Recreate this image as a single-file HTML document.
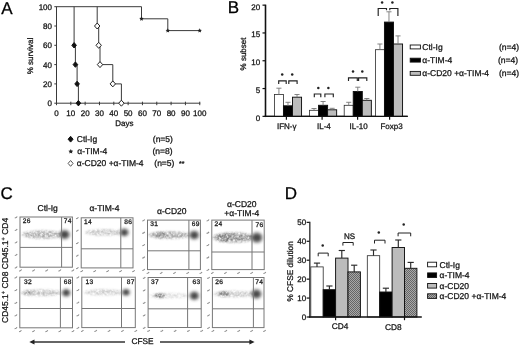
<!DOCTYPE html>
<html><head><meta charset="utf-8"><title>Figure</title>
<style>
html,body{margin:0;padding:0;background:#fff;}
body{width:520px;height:346px;overflow:hidden;font-family:"Liberation Sans",sans-serif;}
svg{display:block;text-rendering:geometricPrecision;font-family:"Liberation Sans",sans-serif;}
</style></head><body>
<svg width="520" height="346" viewBox="0 0 520 346">
<rect width="520" height="346" fill="#fff"/>
<g style="opacity:0.999">
<text x="1.2" y="13.5" font-size="17" text-anchor="start" fill="#000" stroke="#000" stroke-width="0.28" >A</text>
<text x="227.8" y="13.4" font-size="17" text-anchor="start" fill="#000" stroke="#000" stroke-width="0.28" >B</text>
<text x="0.6" y="199.3" font-size="17" text-anchor="start" fill="#000" stroke="#000" stroke-width="0.28" >C</text>
<text x="284.8" y="199.3" font-size="17" text-anchor="start" fill="#000" stroke="#000" stroke-width="0.28" >D</text>
<line x1="56.5" y1="6.400000000000003" x2="56.5" y2="103.7" stroke="#3a3a3a" stroke-width="1" />
<line x1="56.0" y1="103.2" x2="200.25" y2="103.2" stroke="#3a3a3a" stroke-width="1" />
<line x1="54.3" y1="103.2" x2="56.5" y2="103.2" stroke="#3a3a3a" stroke-width="1" />
<text x="52.0" y="106.10000000000001" font-size="8" text-anchor="end" fill="#151515" stroke="#151515" stroke-width="0.28" >0</text>
<line x1="54.3" y1="83.9" x2="56.5" y2="83.9" stroke="#3a3a3a" stroke-width="1" />
<text x="52.0" y="86.80000000000001" font-size="8" text-anchor="end" fill="#151515" stroke="#151515" stroke-width="0.28" >20</text>
<line x1="54.3" y1="64.6" x2="56.5" y2="64.6" stroke="#3a3a3a" stroke-width="1" />
<text x="52.0" y="67.5" font-size="8" text-anchor="end" fill="#151515" stroke="#151515" stroke-width="0.28" >40</text>
<line x1="54.3" y1="45.300000000000004" x2="56.5" y2="45.300000000000004" stroke="#3a3a3a" stroke-width="1" />
<text x="52.0" y="48.2" font-size="8" text-anchor="end" fill="#151515" stroke="#151515" stroke-width="0.28" >60</text>
<line x1="54.3" y1="26.0" x2="56.5" y2="26.0" stroke="#3a3a3a" stroke-width="1" />
<text x="52.0" y="28.9" font-size="8" text-anchor="end" fill="#151515" stroke="#151515" stroke-width="0.28" >80</text>
<line x1="54.3" y1="6.700000000000003" x2="56.5" y2="6.700000000000003" stroke="#3a3a3a" stroke-width="1" />
<text x="52.0" y="9.600000000000003" font-size="8" text-anchor="end" fill="#151515" stroke="#151515" stroke-width="0.28" >100</text>
<line x1="56.5" y1="101.7" x2="56.5" y2="105.2" stroke="#3a3a3a" stroke-width="1" />
<text x="56.5" y="115.6" font-size="8" text-anchor="middle" fill="#151515" stroke="#151515" stroke-width="0.28" >0</text>
<line x1="70.825" y1="101.7" x2="70.825" y2="105.2" stroke="#3a3a3a" stroke-width="1" />
<text x="70.825" y="115.6" font-size="8" text-anchor="middle" fill="#151515" stroke="#151515" stroke-width="0.28" >10</text>
<line x1="85.15" y1="101.7" x2="85.15" y2="105.2" stroke="#3a3a3a" stroke-width="1" />
<text x="85.15" y="115.6" font-size="8" text-anchor="middle" fill="#151515" stroke="#151515" stroke-width="0.28" >20</text>
<line x1="99.475" y1="101.7" x2="99.475" y2="105.2" stroke="#3a3a3a" stroke-width="1" />
<text x="99.475" y="115.6" font-size="8" text-anchor="middle" fill="#151515" stroke="#151515" stroke-width="0.28" >30</text>
<line x1="113.80000000000001" y1="101.7" x2="113.80000000000001" y2="105.2" stroke="#3a3a3a" stroke-width="1" />
<text x="113.80000000000001" y="115.6" font-size="8" text-anchor="middle" fill="#151515" stroke="#151515" stroke-width="0.28" >40</text>
<line x1="128.125" y1="101.7" x2="128.125" y2="105.2" stroke="#3a3a3a" stroke-width="1" />
<text x="128.125" y="115.6" font-size="8" text-anchor="middle" fill="#151515" stroke="#151515" stroke-width="0.28" >50</text>
<line x1="142.45" y1="101.7" x2="142.45" y2="105.2" stroke="#3a3a3a" stroke-width="1" />
<text x="142.45" y="115.6" font-size="8" text-anchor="middle" fill="#151515" stroke="#151515" stroke-width="0.28" >60</text>
<line x1="156.775" y1="101.7" x2="156.775" y2="105.2" stroke="#3a3a3a" stroke-width="1" />
<text x="156.775" y="115.6" font-size="8" text-anchor="middle" fill="#151515" stroke="#151515" stroke-width="0.28" >70</text>
<line x1="171.10000000000002" y1="101.7" x2="171.10000000000002" y2="105.2" stroke="#3a3a3a" stroke-width="1" />
<text x="171.10000000000002" y="115.6" font-size="8" text-anchor="middle" fill="#151515" stroke="#151515" stroke-width="0.28" >80</text>
<line x1="185.425" y1="101.7" x2="185.425" y2="105.2" stroke="#3a3a3a" stroke-width="1" />
<text x="185.425" y="115.6" font-size="8" text-anchor="middle" fill="#151515" stroke="#151515" stroke-width="0.28" >90</text>
<line x1="199.75" y1="101.7" x2="199.75" y2="105.2" stroke="#3a3a3a" stroke-width="1" />
<text x="199.75" y="115.6" font-size="8" text-anchor="middle" fill="#151515" stroke="#151515" stroke-width="0.28" >100</text>
<text x="124.4" y="126.2" font-size="8" text-anchor="middle" fill="#151515" stroke="#151515" stroke-width="0.28" >Days</text>
<text transform="translate(33,56) rotate(-90)" font-size="8" text-anchor="middle" fill="#151515" stroke="#151515" stroke-width="0.28">% survival</text>
<polyline points="56.50,6.70 141.50,6.70 141.50,18.80 167.80,18.80 167.80,30.60 199.70,30.60" fill="none" stroke="#3a3a3a" stroke-width="1"/>
<polyline points="74.10,6.70 74.10,45.30 75.40,45.30 75.40,64.60 77.10,64.60 77.10,83.90 78.40,83.90 78.40,103.20" fill="none" stroke="#3a3a3a" stroke-width="1"/>
<polyline points="97.20,6.70 97.20,26.00 98.70,26.00 98.70,45.30 100.00,45.30 100.00,64.60 112.80,64.60 112.80,83.90 121.40,83.90 121.40,103.20" fill="none" stroke="#3a3a3a" stroke-width="1"/>
<polygon points="141.50,16.50 142.18,17.87 143.69,18.09 142.59,19.16 142.85,20.66 141.50,19.95 140.15,20.66 140.41,19.16 139.31,18.09 140.82,17.87" fill="#222"/>
<polygon points="167.80,28.30 168.48,29.67 169.99,29.89 168.89,30.96 169.15,32.46 167.80,31.75 166.45,32.46 166.71,30.96 165.61,29.89 167.12,29.67" fill="#222"/>
<polygon points="199.70,28.30 200.38,29.67 201.89,29.89 200.79,30.96 201.05,32.46 199.70,31.75 198.35,32.46 198.61,30.96 197.51,29.89 199.02,29.67" fill="#222"/>
<polygon points="74.1,42.6 76.39999999999999,45.300000000000004 74.1,48.00000000000001 71.8,45.300000000000004" fill="#111" stroke="#111" stroke-width="1"/>
<polygon points="75.4,61.89999999999999 77.7,64.6 75.4,67.3 73.10000000000001,64.6" fill="#111" stroke="#111" stroke-width="1"/>
<polygon points="77.1,81.2 79.39999999999999,83.9 77.1,86.60000000000001 74.8,83.9" fill="#111" stroke="#111" stroke-width="1"/>
<polygon points="78.4,100.5 80.7,103.2 78.4,105.9 76.10000000000001,103.2" fill="#111" stroke="#111" stroke-width="1"/>
<polygon points="97.2,23.0 99.9,26.0 97.2,29.0 94.5,26.0" fill="#fff" stroke="#222" stroke-width="1"/>
<polygon points="98.7,42.300000000000004 101.4,45.300000000000004 98.7,48.300000000000004 96.0,45.300000000000004" fill="#fff" stroke="#222" stroke-width="1"/>
<polygon points="100,61.599999999999994 102.7,64.6 100,67.6 97.3,64.6" fill="#fff" stroke="#222" stroke-width="1"/>
<polygon points="112.8,80.9 115.5,83.9 112.8,86.9 110.1,83.9" fill="#fff" stroke="#222" stroke-width="1"/>
<polygon points="121.4,100.2 124.10000000000001,103.2 121.4,106.2 118.7,103.2" fill="#fff" stroke="#222" stroke-width="1"/>
<polygon points="70.6,136.29999999999998 73.1,139.2 70.6,142.1 68.1,139.2" fill="#111" stroke="#111" stroke-width="1"/>
<text x="76.8" y="142.2" font-size="8.5" text-anchor="start" fill="#151515" stroke="#151515" stroke-width="0.28" >Ctl-Ig</text>
<polygon points="70.80,149.00 71.53,150.49 73.18,150.73 71.99,151.89 72.27,153.52 70.80,152.75 69.33,153.52 69.61,151.89 68.42,150.73 70.07,150.49" fill="#222"/>
<text x="77.3" y="154.2" font-size="8.5" text-anchor="start" fill="#151515" stroke="#151515" stroke-width="0.28" >α-TIM-4</text>
<polygon points="70.6,160.5 73.1,163.4 70.6,166.3 68.1,163.4" fill="#fff" stroke="#555" stroke-width="1"/>
<text x="76.8" y="166.4" font-size="8.5" text-anchor="start" fill="#151515" stroke="#151515" stroke-width="0.28" >α-CD20 +α-TIM-4</text>
<text x="152.8" y="142.2" font-size="8.5" text-anchor="start" fill="#151515" stroke="#151515" stroke-width="0.28" >(n=5)</text>
<text x="152.4" y="154.2" font-size="8.5" text-anchor="start" fill="#151515" stroke="#151515" stroke-width="0.28" >(n=8)</text>
<text x="154.3" y="166.4" font-size="8.5" text-anchor="start" fill="#151515" stroke="#151515" stroke-width="0.28" >(n=5)</text>
<text x="179" y="166.0" font-size="7" text-anchor="start" fill="#151515" stroke="#151515" stroke-width="0.28" >**</text>
<line x1="265.5" y1="4.650000000000006" x2="265.5" y2="117.05" stroke="#111" stroke-width="1.6" />
<line x1="264.7" y1="116.35" x2="407.7" y2="116.35" stroke="#111" stroke-width="1.35" />
<line x1="262.5" y1="116.35" x2="265.5" y2="116.35" stroke="#111" stroke-width="1.2" />
<text x="260.2" y="120.85" font-size="8" text-anchor="end" fill="#151515" stroke="#151515" stroke-width="0.28" >0</text>
<line x1="262.5" y1="88.55" x2="265.5" y2="88.55" stroke="#111" stroke-width="1.2" />
<text x="260.2" y="93.05" font-size="8" text-anchor="end" fill="#151515" stroke="#151515" stroke-width="0.28" >5</text>
<line x1="262.5" y1="60.75" x2="265.5" y2="60.75" stroke="#111" stroke-width="1.2" />
<text x="260.2" y="65.25" font-size="8" text-anchor="end" fill="#151515" stroke="#151515" stroke-width="0.28" >10</text>
<line x1="262.5" y1="32.95" x2="265.5" y2="32.95" stroke="#111" stroke-width="1.2" />
<text x="260.2" y="37.45" font-size="8" text-anchor="end" fill="#151515" stroke="#151515" stroke-width="0.28" >15</text>
<line x1="262.5" y1="5.150000000000006" x2="265.5" y2="5.150000000000006" stroke="#111" stroke-width="1.2" />
<text x="260.2" y="9.650000000000006" font-size="8" text-anchor="end" fill="#151515" stroke="#151515" stroke-width="0.28" >20</text>
<text transform="translate(246.3,54) rotate(-90)" font-size="8" text-anchor="middle" fill="#151515" stroke="#151515" stroke-width="0.28">% subset</text>
<rect x="274.40" y="94.50" width="9.05" height="21.85" fill="#fff" stroke="#2a2a2a" stroke-width="0.8"/>
<line x1="278.92" y1="94.50" x2="278.92" y2="88.20" stroke="#777" stroke-width="0.9" />
<line x1="276.39" y1="88.20" x2="281.46" y2="88.20" stroke="#777" stroke-width="0.9" />
<rect x="283.45" y="105.80" width="9.05" height="10.55" fill="#000" stroke="#111" stroke-width="0.95"/>
<line x1="287.97" y1="105.80" x2="287.97" y2="102.30" stroke="#777" stroke-width="0.9" />
<line x1="285.44" y1="102.30" x2="290.51" y2="102.30" stroke="#777" stroke-width="0.9" />
<rect x="292.50" y="97.20" width="9.05" height="19.15" fill="#bcbcbc" stroke="#111" stroke-width="0.95"/>
<line x1="297.02" y1="97.20" x2="297.02" y2="94.50" stroke="#777" stroke-width="0.9" />
<line x1="294.49" y1="94.50" x2="299.56" y2="94.50" stroke="#777" stroke-width="0.9" />
<line x1="286.4" y1="116.35" x2="286.4" y2="119.75" stroke="#111" stroke-width="1.2" />
<text x="286.7" y="128.8" font-size="8" text-anchor="middle" fill="#151515" stroke="#151515" stroke-width="0.28" >IFN-γ</text>
<rect x="309.50" y="110.30" width="9.05" height="6.05" fill="#fff" stroke="#2a2a2a" stroke-width="0.8"/>
<line x1="314.02" y1="110.30" x2="314.02" y2="108.50" stroke="#777" stroke-width="0.9" />
<line x1="311.49" y1="108.50" x2="316.56" y2="108.50" stroke="#777" stroke-width="0.9" />
<rect x="318.55" y="105.30" width="9.05" height="11.05" fill="#000" stroke="#111" stroke-width="0.95"/>
<line x1="323.07" y1="105.30" x2="323.07" y2="101.50" stroke="#777" stroke-width="0.9" />
<line x1="320.54" y1="101.50" x2="325.61" y2="101.50" stroke="#777" stroke-width="0.9" />
<rect x="327.60" y="109.80" width="9.05" height="6.55" fill="#bcbcbc" stroke="#111" stroke-width="0.95"/>
<line x1="332.12" y1="109.80" x2="332.12" y2="108.30" stroke="#777" stroke-width="0.9" />
<line x1="329.59" y1="108.30" x2="334.66" y2="108.30" stroke="#777" stroke-width="0.9" />
<line x1="322.1" y1="116.35" x2="322.1" y2="119.75" stroke="#111" stroke-width="1.2" />
<text x="323.9" y="128.8" font-size="8" text-anchor="middle" fill="#151515" stroke="#151515" stroke-width="0.28" >IL-4</text>
<rect x="344.20" y="105.30" width="9.05" height="11.05" fill="#fff" stroke="#2a2a2a" stroke-width="0.8"/>
<line x1="348.72" y1="105.30" x2="348.72" y2="102.30" stroke="#777" stroke-width="0.9" />
<line x1="346.19" y1="102.30" x2="351.26" y2="102.30" stroke="#777" stroke-width="0.9" />
<rect x="353.25" y="91.50" width="9.05" height="24.85" fill="#000" stroke="#111" stroke-width="0.95"/>
<line x1="357.77" y1="91.50" x2="357.77" y2="87.20" stroke="#777" stroke-width="0.9" />
<line x1="355.24" y1="87.20" x2="360.31" y2="87.20" stroke="#777" stroke-width="0.9" />
<rect x="362.30" y="100.30" width="9.05" height="16.05" fill="#bcbcbc" stroke="#111" stroke-width="0.95"/>
<line x1="366.82" y1="100.30" x2="366.82" y2="98.50" stroke="#777" stroke-width="0.9" />
<line x1="364.29" y1="98.50" x2="369.36" y2="98.50" stroke="#777" stroke-width="0.9" />
<line x1="357.6" y1="116.35" x2="357.6" y2="119.75" stroke="#111" stroke-width="1.2" />
<text x="358.6" y="128.8" font-size="8" text-anchor="middle" fill="#151515" stroke="#151515" stroke-width="0.28" >IL-10</text>
<rect x="375.40" y="49.70" width="9.05" height="66.65" fill="#fff" stroke="#2a2a2a" stroke-width="0.8"/>
<line x1="379.92" y1="49.70" x2="379.92" y2="44.00" stroke="#777" stroke-width="0.9" />
<line x1="377.39" y1="44.00" x2="382.46" y2="44.00" stroke="#777" stroke-width="0.9" />
<rect x="384.45" y="22.10" width="9.05" height="94.25" fill="#000" stroke="#111" stroke-width="0.95"/>
<line x1="388.97" y1="22.10" x2="388.97" y2="11.80" stroke="#777" stroke-width="0.9" />
<line x1="386.44" y1="11.80" x2="391.51" y2="11.80" stroke="#777" stroke-width="0.9" />
<rect x="393.50" y="44.00" width="9.05" height="72.35" fill="#bcbcbc" stroke="#111" stroke-width="0.95"/>
<line x1="398.02" y1="44.00" x2="398.02" y2="35.90" stroke="#777" stroke-width="0.9" />
<line x1="395.49" y1="35.90" x2="400.56" y2="35.90" stroke="#777" stroke-width="0.9" />
<line x1="389.6" y1="116.35" x2="389.6" y2="119.75" stroke="#111" stroke-width="1.2" />
<text x="391.5" y="128.8" font-size="8" text-anchor="middle" fill="#151515" stroke="#151515" stroke-width="0.28" >Foxp3</text>
<line x1="264.7" y1="116.35" x2="407.7" y2="116.35" stroke="#111" stroke-width="1.35" />
<polyline points="278.70,84.00 278.70,80.80 286.20,80.80 286.20,84.00" fill="none" stroke="#222" stroke-width="1.15"/>
<polyline points="288.80,84.00 288.80,80.80 297.10,80.80 297.10,84.00" fill="none" stroke="#222" stroke-width="1.15"/>
<circle cx="282.2" cy="74.6" r="1.25" fill="#222"/>
<circle cx="292.2" cy="74.6" r="1.25" fill="#222"/>
<polyline points="314.30,97.30 314.30,94.00 320.80,94.00 320.80,97.30" fill="none" stroke="#222" stroke-width="1.15"/>
<polyline points="324.90,97.30 324.90,94.00 333.30,94.00 333.30,97.30" fill="none" stroke="#222" stroke-width="1.15"/>
<circle cx="318.3" cy="87.9" r="1.25" fill="#222"/>
<circle cx="328.4" cy="87.9" r="1.25" fill="#222"/>
<polyline points="348.50,81.00 348.50,77.80 357.30,77.80 357.30,81.00" fill="none" stroke="#222" stroke-width="1.15"/>
<polyline points="358.60,81.00 358.60,77.80 366.80,77.80 366.80,81.00" fill="none" stroke="#222" stroke-width="1.15"/>
<circle cx="353" cy="71.6" r="1.25" fill="#222"/>
<circle cx="362.3" cy="71.6" r="1.25" fill="#222"/>
<polyline points="378.20,16.00 378.20,8.50 386.50,8.50 386.50,10.20" fill="none" stroke="#222" stroke-width="1.15"/>
<polyline points="389.80,10.20 389.80,8.50 397.90,8.50 397.90,16.00" fill="none" stroke="#222" stroke-width="1.15"/>
<circle cx="382.1" cy="2.4" r="1.25" fill="#222"/>
<circle cx="392.4" cy="2.4" r="1.25" fill="#222"/>
<rect x="410.2" y="45.0" width="10.2" height="3.9" fill="#fff" stroke="#111" stroke-width="0.9"/>
<text x="422.3" y="49.8" font-size="8.5" text-anchor="start" fill="#151515" stroke="#151515" stroke-width="0.28" >Ctl-Ig</text>
<text x="499.0" y="49.8" font-size="8.5" text-anchor="start" fill="#151515" stroke="#151515" stroke-width="0.28" >(n=4)</text>
<rect x="410.2" y="58.2" width="10.2" height="3.9" fill="#000" stroke="#111" stroke-width="0.9"/>
<text x="422.3" y="63.1" font-size="8.5" text-anchor="start" fill="#151515" stroke="#151515" stroke-width="0.28" >α-TIM-4</text>
<text x="498.0" y="63.1" font-size="8.5" text-anchor="start" fill="#151515" stroke="#151515" stroke-width="0.28" >(n=4)</text>
<rect x="410.2" y="71.4" width="10.2" height="3.9" fill="#bcbcbc" stroke="#111" stroke-width="0.9"/>
<text x="422.3" y="76.3" font-size="8.5" text-anchor="start" fill="#151515" stroke="#151515" stroke-width="0.28" >α-CD20 +α-TIM-4</text>
<text x="499.0" y="76.3" font-size="8.5" text-anchor="start" fill="#151515" stroke="#151515" stroke-width="0.28" >(n=4)</text>
<defs><filter id="b1" x="-50%" y="-50%" width="200%" height="200%"><feGaussianBlur stdDeviation="1.4"/></filter><filter id="b2" x="-50%" y="-50%" width="200%" height="200%"><feGaussianBlur stdDeviation="1.1"/></filter><pattern id="hatch" width="2" height="2" patternUnits="userSpaceOnUse"><rect width="2" height="2" fill="#a8a8a8"/><rect width="1" height="1" fill="#666"/><rect x="1" y="1" width="1" height="1" fill="#666"/></pattern></defs>
<defs><filter id="g1" x="-30%" y="-80%" width="160%" height="260%"><feGaussianBlur in="SourceGraphic" stdDeviation="1.3" result="bl"/><feTurbulence type="fractalNoise" baseFrequency="0.42" numOctaves="2" seed="7" result="nz"/><feColorMatrix in="nz" type="matrix" values="0 0 0 0 0  0 0 0 0 0  0 0 0 0 0  1.7 0 0 0 -0.2" result="na"/><feComposite in="bl" in2="na" operator="in" result="cp"/><feGaussianBlur in="cp" stdDeviation="0.45"/></filter></defs>
<rect x="20.0" y="217.0" width="52.40" height="50.20" fill="#fff" stroke="#777" stroke-width="1"/>
<ellipse cx="42.55" cy="234.6" rx="21.05" ry="4.2" fill="#666" opacity="0.55" filter="url(#g1)"/>
<ellipse cx="64.6" cy="234.6" rx="5.5" ry="4.8999999999999995" fill="#606060" opacity="0.75" filter="url(#b1)"/>
<ellipse cx="64.6" cy="234.6" rx="3.01" ry="2.79" fill="#3a3a3a" opacity="0.8" filter="url(#b2)"/>
<line x1="61.6" y1="217.0" x2="61.6" y2="267.2" stroke="#777" stroke-width="1" />
<line x1="20.0" y1="247.4" x2="72.4" y2="247.4" stroke="#777" stroke-width="1" />
<text x="22.8" y="223.2" font-size="6.6" text-anchor="start" fill="#222" stroke="#222" stroke-width="0.3" letter-spacing="0.35">26</text>
<text x="71.80000000000001" y="223.2" font-size="6.6" text-anchor="end" fill="#222" stroke="#222" stroke-width="0.3" letter-spacing="0.35">74</text>
<path d="M14.80,217.90 q1.6,-0.1 2.4,-1.5" stroke="#8a8a8a" stroke-width="1.1" fill="none"/>
<path d="M14.80,230.45 q1.6,-0.1 2.4,-1.5" stroke="#8a8a8a" stroke-width="1.1" fill="none"/>
<path d="M14.80,243.00 q1.6,-0.1 2.4,-1.5" stroke="#8a8a8a" stroke-width="1.1" fill="none"/>
<path d="M14.80,255.55 q1.6,-0.1 2.4,-1.5" stroke="#8a8a8a" stroke-width="1.1" fill="none"/>
<path d="M14.80,268.10 q1.6,-0.1 2.4,-1.5" stroke="#8a8a8a" stroke-width="1.1" fill="none"/>
<path d="M19.20,271.10 q1.6,-0.1 2.4,-1.5" stroke="#8a8a8a" stroke-width="1.1" fill="none"/>
<path d="M32.30,271.10 q1.6,-0.1 2.4,-1.5" stroke="#8a8a8a" stroke-width="1.1" fill="none"/>
<path d="M45.40,271.10 q1.6,-0.1 2.4,-1.5" stroke="#8a8a8a" stroke-width="1.1" fill="none"/>
<path d="M58.50,271.10 q1.6,-0.1 2.4,-1.5" stroke="#8a8a8a" stroke-width="1.1" fill="none"/>
<path d="M71.60,271.10 q1.6,-0.1 2.4,-1.5" stroke="#8a8a8a" stroke-width="1.1" fill="none"/>
<rect x="81.2" y="217.8" width="51.80" height="50.10" fill="#fff" stroke="#777" stroke-width="1"/>
<ellipse cx="103.90" cy="232.4" rx="18.90" ry="3.2" fill="#666" opacity="0.38" filter="url(#g1)"/>
<ellipse cx="124.3" cy="232.4" rx="4.7" ry="4.1" fill="#606060" opacity="0.75" filter="url(#b1)"/>
<ellipse cx="124.3" cy="232.4" rx="2.45" ry="2.27" fill="#3a3a3a" opacity="0.8" filter="url(#b2)"/>
<line x1="120.8" y1="217.8" x2="120.8" y2="267.9" stroke="#777" stroke-width="1" />
<line x1="81.2" y1="248.8" x2="133.0" y2="248.8" stroke="#777" stroke-width="1" />
<text x="84.0" y="224.0" font-size="6.6" text-anchor="start" fill="#222" stroke="#222" stroke-width="0.3" letter-spacing="0.35">14</text>
<text x="132.4" y="224.2" font-size="6.6" text-anchor="end" fill="#222" stroke="#222" stroke-width="0.3" letter-spacing="0.35">86</text>
<path d="M76.00,218.70 q1.6,-0.1 2.4,-1.5" stroke="#8a8a8a" stroke-width="1.1" fill="none"/>
<path d="M76.00,231.22 q1.6,-0.1 2.4,-1.5" stroke="#8a8a8a" stroke-width="1.1" fill="none"/>
<path d="M76.00,243.75 q1.6,-0.1 2.4,-1.5" stroke="#8a8a8a" stroke-width="1.1" fill="none"/>
<path d="M76.00,256.27 q1.6,-0.1 2.4,-1.5" stroke="#8a8a8a" stroke-width="1.1" fill="none"/>
<path d="M76.00,268.80 q1.6,-0.1 2.4,-1.5" stroke="#8a8a8a" stroke-width="1.1" fill="none"/>
<path d="M80.40,271.80 q1.6,-0.1 2.4,-1.5" stroke="#8a8a8a" stroke-width="1.1" fill="none"/>
<path d="M93.35,271.80 q1.6,-0.1 2.4,-1.5" stroke="#8a8a8a" stroke-width="1.1" fill="none"/>
<path d="M106.30,271.80 q1.6,-0.1 2.4,-1.5" stroke="#8a8a8a" stroke-width="1.1" fill="none"/>
<path d="M119.25,271.80 q1.6,-0.1 2.4,-1.5" stroke="#8a8a8a" stroke-width="1.1" fill="none"/>
<path d="M132.20,271.80 q1.6,-0.1 2.4,-1.5" stroke="#8a8a8a" stroke-width="1.1" fill="none"/>
<rect x="147.5" y="220.1" width="52.90" height="49.50" fill="#fff" stroke="#777" stroke-width="1"/>
<ellipse cx="169.70" cy="235.1" rx="21.20" ry="3.6" fill="#666" opacity="0.6" filter="url(#g1)"/>
<ellipse cx="160" cy="235.1" rx="6" ry="2.88" fill="#555" opacity="0.45" filter="url(#g1)"/>
<ellipse cx="194.2" cy="235.1" rx="5.2" ry="4.6" fill="#606060" opacity="0.75" filter="url(#b1)"/>
<ellipse cx="194.2" cy="235.1" rx="2.80" ry="2.60" fill="#3a3a3a" opacity="0.8" filter="url(#b2)"/>
<line x1="188.9" y1="220.1" x2="188.9" y2="269.6" stroke="#777" stroke-width="1" />
<line x1="147.5" y1="250.8" x2="200.4" y2="250.8" stroke="#777" stroke-width="1" />
<text x="150.3" y="226.29999999999998" font-size="6.6" text-anchor="start" fill="#222" stroke="#222" stroke-width="0.3" letter-spacing="0.35">31</text>
<text x="199.8" y="226.29999999999998" font-size="6.6" text-anchor="end" fill="#222" stroke="#222" stroke-width="0.3" letter-spacing="0.35">69</text>
<path d="M142.30,221.00 q1.6,-0.1 2.4,-1.5" stroke="#8a8a8a" stroke-width="1.1" fill="none"/>
<path d="M142.30,233.38 q1.6,-0.1 2.4,-1.5" stroke="#8a8a8a" stroke-width="1.1" fill="none"/>
<path d="M142.30,245.75 q1.6,-0.1 2.4,-1.5" stroke="#8a8a8a" stroke-width="1.1" fill="none"/>
<path d="M142.30,258.12 q1.6,-0.1 2.4,-1.5" stroke="#8a8a8a" stroke-width="1.1" fill="none"/>
<path d="M142.30,270.50 q1.6,-0.1 2.4,-1.5" stroke="#8a8a8a" stroke-width="1.1" fill="none"/>
<path d="M146.70,273.50 q1.6,-0.1 2.4,-1.5" stroke="#8a8a8a" stroke-width="1.1" fill="none"/>
<path d="M159.92,273.50 q1.6,-0.1 2.4,-1.5" stroke="#8a8a8a" stroke-width="1.1" fill="none"/>
<path d="M173.15,273.50 q1.6,-0.1 2.4,-1.5" stroke="#8a8a8a" stroke-width="1.1" fill="none"/>
<path d="M186.38,273.50 q1.6,-0.1 2.4,-1.5" stroke="#8a8a8a" stroke-width="1.1" fill="none"/>
<path d="M199.60,273.50 q1.6,-0.1 2.4,-1.5" stroke="#8a8a8a" stroke-width="1.1" fill="none"/>
<rect x="211.8" y="220.1" width="52.40" height="49.50" fill="#fff" stroke="#777" stroke-width="1"/>
<ellipse cx="233.40" cy="237.6" rx="20.60" ry="5.0" fill="#666" opacity="0.75" filter="url(#g1)"/>
<ellipse cx="224" cy="237.6" rx="7" ry="4.00" fill="#555" opacity="0.35" filter="url(#g1)"/>
<ellipse cx="256.8" cy="237.6" rx="6.1000000000000005" ry="5.5" fill="#606060" opacity="0.75" filter="url(#b1)"/>
<ellipse cx="256.8" cy="237.6" rx="3.43" ry="3.19" fill="#3a3a3a" opacity="0.8" filter="url(#b2)"/>
<line x1="252.0" y1="220.1" x2="252.0" y2="269.6" stroke="#777" stroke-width="1" />
<line x1="211.8" y1="252.0" x2="264.2" y2="252.0" stroke="#777" stroke-width="1" />
<text x="214.60000000000002" y="226.2" font-size="6.6" text-anchor="start" fill="#222" stroke="#222" stroke-width="0.3" letter-spacing="0.35">24</text>
<text x="263.59999999999997" y="226.8" font-size="6.6" text-anchor="end" fill="#222" stroke="#222" stroke-width="0.3" letter-spacing="0.35">76</text>
<path d="M206.60,221.00 q1.6,-0.1 2.4,-1.5" stroke="#8a8a8a" stroke-width="1.1" fill="none"/>
<path d="M206.60,233.38 q1.6,-0.1 2.4,-1.5" stroke="#8a8a8a" stroke-width="1.1" fill="none"/>
<path d="M206.60,245.75 q1.6,-0.1 2.4,-1.5" stroke="#8a8a8a" stroke-width="1.1" fill="none"/>
<path d="M206.60,258.12 q1.6,-0.1 2.4,-1.5" stroke="#8a8a8a" stroke-width="1.1" fill="none"/>
<path d="M206.60,270.50 q1.6,-0.1 2.4,-1.5" stroke="#8a8a8a" stroke-width="1.1" fill="none"/>
<path d="M211.00,273.50 q1.6,-0.1 2.4,-1.5" stroke="#8a8a8a" stroke-width="1.1" fill="none"/>
<path d="M224.10,273.50 q1.6,-0.1 2.4,-1.5" stroke="#8a8a8a" stroke-width="1.1" fill="none"/>
<path d="M237.20,273.50 q1.6,-0.1 2.4,-1.5" stroke="#8a8a8a" stroke-width="1.1" fill="none"/>
<path d="M250.30,273.50 q1.6,-0.1 2.4,-1.5" stroke="#8a8a8a" stroke-width="1.1" fill="none"/>
<path d="M263.40,273.50 q1.6,-0.1 2.4,-1.5" stroke="#8a8a8a" stroke-width="1.1" fill="none"/>
<rect x="19.8" y="277.2" width="52.70" height="50.60" fill="#fff" stroke="#777" stroke-width="1"/>
<ellipse cx="41.60" cy="292.8" rx="20.80" ry="3.2" fill="#666" opacity="0.42" filter="url(#g1)"/>
<ellipse cx="28.5" cy="292.8" rx="5" ry="2.56" fill="#555" opacity="0.35" filter="url(#g1)"/>
<ellipse cx="66.2" cy="292.8" rx="4.6" ry="4.0" fill="#606060" opacity="0.75" filter="url(#b1)"/>
<ellipse cx="66.2" cy="292.8" rx="2.38" ry="2.21" fill="#3a3a3a" opacity="0.8" filter="url(#b2)"/>
<line x1="60.4" y1="277.2" x2="60.4" y2="327.8" stroke="#777" stroke-width="1" />
<line x1="19.8" y1="308.5" x2="72.5" y2="308.5" stroke="#777" stroke-width="1" />
<text x="24.0" y="284.0" font-size="6.6" text-anchor="start" fill="#222" stroke="#222" stroke-width="0.3" letter-spacing="0.35">32</text>
<text x="71.9" y="284.0" font-size="6.6" text-anchor="end" fill="#222" stroke="#222" stroke-width="0.3" letter-spacing="0.35">68</text>
<path d="M14.60,278.10 q1.6,-0.1 2.4,-1.5" stroke="#8a8a8a" stroke-width="1.1" fill="none"/>
<path d="M14.60,290.75 q1.6,-0.1 2.4,-1.5" stroke="#8a8a8a" stroke-width="1.1" fill="none"/>
<path d="M14.60,303.40 q1.6,-0.1 2.4,-1.5" stroke="#8a8a8a" stroke-width="1.1" fill="none"/>
<path d="M14.60,316.05 q1.6,-0.1 2.4,-1.5" stroke="#8a8a8a" stroke-width="1.1" fill="none"/>
<path d="M14.60,328.70 q1.6,-0.1 2.4,-1.5" stroke="#8a8a8a" stroke-width="1.1" fill="none"/>
<path d="M19.00,331.70 q1.6,-0.1 2.4,-1.5" stroke="#8a8a8a" stroke-width="1.1" fill="none"/>
<path d="M32.18,331.70 q1.6,-0.1 2.4,-1.5" stroke="#8a8a8a" stroke-width="1.1" fill="none"/>
<path d="M45.35,331.70 q1.6,-0.1 2.4,-1.5" stroke="#8a8a8a" stroke-width="1.1" fill="none"/>
<path d="M58.53,331.70 q1.6,-0.1 2.4,-1.5" stroke="#8a8a8a" stroke-width="1.1" fill="none"/>
<path d="M71.70,331.70 q1.6,-0.1 2.4,-1.5" stroke="#8a8a8a" stroke-width="1.1" fill="none"/>
<rect x="81.8" y="277.2" width="53.50" height="50.40" fill="#fff" stroke="#777" stroke-width="1"/>
<ellipse cx="103.75" cy="292.3" rx="19.75" ry="3.0" fill="#666" opacity="0.33" filter="url(#g1)"/>
<ellipse cx="126.0" cy="292.3" rx="4.2" ry="3.6" fill="#606060" opacity="0.75" filter="url(#b1)"/>
<ellipse cx="126.0" cy="292.3" rx="2.10" ry="1.95" fill="#3a3a3a" opacity="0.8" filter="url(#b2)"/>
<line x1="121.5" y1="277.2" x2="121.5" y2="327.6" stroke="#777" stroke-width="1" />
<line x1="81.8" y1="308.5" x2="135.3" y2="308.5" stroke="#777" stroke-width="1" />
<text x="85.6" y="284.0" font-size="6.6" text-anchor="start" fill="#222" stroke="#222" stroke-width="0.3" letter-spacing="0.35">13</text>
<text x="134.70000000000002" y="284.0" font-size="6.6" text-anchor="end" fill="#222" stroke="#222" stroke-width="0.3" letter-spacing="0.35">87</text>
<path d="M76.60,278.10 q1.6,-0.1 2.4,-1.5" stroke="#8a8a8a" stroke-width="1.1" fill="none"/>
<path d="M76.60,290.70 q1.6,-0.1 2.4,-1.5" stroke="#8a8a8a" stroke-width="1.1" fill="none"/>
<path d="M76.60,303.30 q1.6,-0.1 2.4,-1.5" stroke="#8a8a8a" stroke-width="1.1" fill="none"/>
<path d="M76.60,315.90 q1.6,-0.1 2.4,-1.5" stroke="#8a8a8a" stroke-width="1.1" fill="none"/>
<path d="M76.60,328.50 q1.6,-0.1 2.4,-1.5" stroke="#8a8a8a" stroke-width="1.1" fill="none"/>
<path d="M81.00,331.50 q1.6,-0.1 2.4,-1.5" stroke="#8a8a8a" stroke-width="1.1" fill="none"/>
<path d="M94.38,331.50 q1.6,-0.1 2.4,-1.5" stroke="#8a8a8a" stroke-width="1.1" fill="none"/>
<path d="M107.75,331.50 q1.6,-0.1 2.4,-1.5" stroke="#8a8a8a" stroke-width="1.1" fill="none"/>
<path d="M121.13,331.50 q1.6,-0.1 2.4,-1.5" stroke="#8a8a8a" stroke-width="1.1" fill="none"/>
<path d="M134.50,331.50 q1.6,-0.1 2.4,-1.5" stroke="#8a8a8a" stroke-width="1.1" fill="none"/>
<rect x="148.1" y="277.5" width="53.10" height="50.00" fill="#fff" stroke="#777" stroke-width="1"/>
<ellipse cx="169.35" cy="295.7" rx="20.25" ry="2.6" fill="#666" opacity="0.22" filter="url(#g1)"/>
<ellipse cx="160" cy="295.7" rx="5.5" ry="2.08" fill="#555" opacity="0.85" filter="url(#g1)"/>
<ellipse cx="194.3" cy="295.7" rx="5.1" ry="4.5" fill="#606060" opacity="0.75" filter="url(#b1)"/>
<ellipse cx="194.3" cy="295.7" rx="2.73" ry="2.54" fill="#3a3a3a" opacity="0.8" filter="url(#b2)"/>
<line x1="187.6" y1="277.5" x2="187.6" y2="327.5" stroke="#777" stroke-width="1" />
<line x1="148.1" y1="308.8" x2="201.2" y2="308.8" stroke="#777" stroke-width="1" />
<text x="150.9" y="284.0" font-size="6.6" text-anchor="start" fill="#222" stroke="#222" stroke-width="0.3" letter-spacing="0.35">37</text>
<text x="200.6" y="284.0" font-size="6.6" text-anchor="end" fill="#222" stroke="#222" stroke-width="0.3" letter-spacing="0.35">63</text>
<path d="M142.90,278.40 q1.6,-0.1 2.4,-1.5" stroke="#8a8a8a" stroke-width="1.1" fill="none"/>
<path d="M142.90,290.90 q1.6,-0.1 2.4,-1.5" stroke="#8a8a8a" stroke-width="1.1" fill="none"/>
<path d="M142.90,303.40 q1.6,-0.1 2.4,-1.5" stroke="#8a8a8a" stroke-width="1.1" fill="none"/>
<path d="M142.90,315.90 q1.6,-0.1 2.4,-1.5" stroke="#8a8a8a" stroke-width="1.1" fill="none"/>
<path d="M142.90,328.40 q1.6,-0.1 2.4,-1.5" stroke="#8a8a8a" stroke-width="1.1" fill="none"/>
<path d="M147.30,331.40 q1.6,-0.1 2.4,-1.5" stroke="#8a8a8a" stroke-width="1.1" fill="none"/>
<path d="M160.57,331.40 q1.6,-0.1 2.4,-1.5" stroke="#8a8a8a" stroke-width="1.1" fill="none"/>
<path d="M173.85,331.40 q1.6,-0.1 2.4,-1.5" stroke="#8a8a8a" stroke-width="1.1" fill="none"/>
<path d="M187.12,331.40 q1.6,-0.1 2.4,-1.5" stroke="#8a8a8a" stroke-width="1.1" fill="none"/>
<path d="M200.40,331.40 q1.6,-0.1 2.4,-1.5" stroke="#8a8a8a" stroke-width="1.1" fill="none"/>
<rect x="212.4" y="277.5" width="51.60" height="50.10" fill="#fff" stroke="#777" stroke-width="1"/>
<ellipse cx="234.40" cy="294.0" rx="21.00" ry="3.2" fill="#666" opacity="0.35" filter="url(#g1)"/>
<ellipse cx="223.8" cy="294.0" rx="5.5" ry="2.56" fill="#555" opacity="0.7" filter="url(#g1)"/>
<ellipse cx="256.4" cy="294.0" rx="5.5" ry="4.8999999999999995" fill="#606060" opacity="0.75" filter="url(#b1)"/>
<ellipse cx="256.4" cy="294.0" rx="3.01" ry="2.79" fill="#3a3a3a" opacity="0.8" filter="url(#b2)"/>
<line x1="253.4" y1="277.5" x2="253.4" y2="327.6" stroke="#777" stroke-width="1" />
<line x1="212.4" y1="308.8" x2="264.0" y2="308.8" stroke="#777" stroke-width="1" />
<text x="215.20000000000002" y="284.0" font-size="6.6" text-anchor="start" fill="#222" stroke="#222" stroke-width="0.3" letter-spacing="0.35">26</text>
<text x="263.4" y="284.0" font-size="6.6" text-anchor="end" fill="#222" stroke="#222" stroke-width="0.3" letter-spacing="0.35">74</text>
<path d="M207.20,278.40 q1.6,-0.1 2.4,-1.5" stroke="#8a8a8a" stroke-width="1.1" fill="none"/>
<path d="M207.20,290.92 q1.6,-0.1 2.4,-1.5" stroke="#8a8a8a" stroke-width="1.1" fill="none"/>
<path d="M207.20,303.45 q1.6,-0.1 2.4,-1.5" stroke="#8a8a8a" stroke-width="1.1" fill="none"/>
<path d="M207.20,315.98 q1.6,-0.1 2.4,-1.5" stroke="#8a8a8a" stroke-width="1.1" fill="none"/>
<path d="M207.20,328.50 q1.6,-0.1 2.4,-1.5" stroke="#8a8a8a" stroke-width="1.1" fill="none"/>
<path d="M211.60,331.50 q1.6,-0.1 2.4,-1.5" stroke="#8a8a8a" stroke-width="1.1" fill="none"/>
<path d="M224.50,331.50 q1.6,-0.1 2.4,-1.5" stroke="#8a8a8a" stroke-width="1.1" fill="none"/>
<path d="M237.40,331.50 q1.6,-0.1 2.4,-1.5" stroke="#8a8a8a" stroke-width="1.1" fill="none"/>
<path d="M250.30,331.50 q1.6,-0.1 2.4,-1.5" stroke="#8a8a8a" stroke-width="1.1" fill="none"/>
<path d="M263.20,331.50 q1.6,-0.1 2.4,-1.5" stroke="#8a8a8a" stroke-width="1.1" fill="none"/>
<text x="47.7" y="211.2" font-size="8.5" text-anchor="middle" fill="#151515" stroke="#151515" stroke-width="0.28" >Ctl-Ig</text>
<text x="104.4" y="210.6" font-size="8.5" text-anchor="middle" fill="#151515" stroke="#151515" stroke-width="0.28" >α-TIM-4</text>
<text x="171.8" y="213.6" font-size="8.5" text-anchor="middle" fill="#151515" stroke="#151515" stroke-width="0.28" >α-CD20</text>
<text x="241.8" y="206.8" font-size="8.5" text-anchor="middle" fill="#151515" stroke="#151515" stroke-width="0.28" >α-CD20</text>
<text x="241.8" y="216.1" font-size="8.5" text-anchor="middle" fill="#151515" stroke="#151515" stroke-width="0.28" >+α-TIM-4</text>
<text transform="translate(8.2,270.4) rotate(-90)" font-size="8.5" text-anchor="middle" fill="#151515" stroke="#151515" stroke-width="0.28">CD45.1<tspan font-size="5.5" dy="-3">+</tspan><tspan dy="3"> CD8 CD45.1</tspan><tspan font-size="5.5" dy="-3">+</tspan><tspan dy="3"> CD4</tspan></text>
<text x="142.5" y="344.4" font-size="8.3" text-anchor="middle" fill="#151515" stroke="#151515" stroke-width="0.28" >CFSE</text>
<line x1="33" y1="342.0" x2="125" y2="342.0" stroke="#333" stroke-width="1.5" />
<polygon points="29.3,342.0 34.5,339.6 34.5,344.4" fill="#222"/>
<line x1="160" y1="342.0" x2="250.5" y2="342.0" stroke="#333" stroke-width="1.5" />
<polygon points="254.6,342.0 249.4,339.6 249.4,344.4" fill="#222"/>
<line x1="309.8" y1="221.85" x2="309.8" y2="317.7" stroke="#444" stroke-width="1.5" />
<line x1="306.6" y1="317.0" x2="309.6" y2="317.0" stroke="#111" stroke-width="1.2" />
<text x="306.2" y="319.9" font-size="8" text-anchor="end" fill="#151515" stroke="#151515" stroke-width="0.28" >0</text>
<line x1="306.6" y1="298.07" x2="309.6" y2="298.07" stroke="#111" stroke-width="1.2" />
<text x="306.2" y="300.96999999999997" font-size="8" text-anchor="end" fill="#151515" stroke="#151515" stroke-width="0.28" >10</text>
<line x1="306.6" y1="279.14" x2="309.6" y2="279.14" stroke="#111" stroke-width="1.2" />
<text x="306.2" y="282.03999999999996" font-size="8" text-anchor="end" fill="#151515" stroke="#151515" stroke-width="0.28" >20</text>
<line x1="306.6" y1="260.21" x2="309.6" y2="260.21" stroke="#111" stroke-width="1.2" />
<text x="306.2" y="263.10999999999996" font-size="8" text-anchor="end" fill="#151515" stroke="#151515" stroke-width="0.28" >30</text>
<line x1="306.6" y1="241.28" x2="309.6" y2="241.28" stroke="#111" stroke-width="1.2" />
<text x="306.2" y="244.18" font-size="8" text-anchor="end" fill="#151515" stroke="#151515" stroke-width="0.28" >40</text>
<line x1="306.6" y1="222.35" x2="309.6" y2="222.35" stroke="#111" stroke-width="1.2" />
<text x="306.2" y="225.25" font-size="8" text-anchor="end" fill="#151515" stroke="#151515" stroke-width="0.28" >50</text>
<text transform="translate(293.2,271.4) rotate(-90)" font-size="8.3" text-anchor="middle" fill="#151515" stroke="#151515" stroke-width="0.28">% CFSE dilution</text>
<rect x="310.80" y="266.90" width="12.40" height="50.10" fill="#fff" stroke="#2a2a2a" stroke-width="0.8"/>
<line x1="317.00" y1="266.90" x2="317.00" y2="263.10" stroke="#2a2a2a" stroke-width="1.15" />
<line x1="313.90" y1="263.10" x2="320.10" y2="263.10" stroke="#2a2a2a" stroke-width="1.15" />
<rect x="323.20" y="289.70" width="12.40" height="27.30" fill="#000" stroke="#111" stroke-width="0.95"/>
<line x1="329.40" y1="289.70" x2="329.40" y2="286.00" stroke="#2a2a2a" stroke-width="1.15" />
<line x1="326.30" y1="286.00" x2="332.50" y2="286.00" stroke="#2a2a2a" stroke-width="1.15" />
<rect x="335.60" y="258.10" width="12.40" height="58.90" fill="#bcbcbc" stroke="#111" stroke-width="0.95"/>
<line x1="341.80" y1="258.10" x2="341.80" y2="250.50" stroke="#2a2a2a" stroke-width="1.15" />
<line x1="338.70" y1="250.50" x2="344.90" y2="250.50" stroke="#2a2a2a" stroke-width="1.15" />
<rect x="348.00" y="271.90" width="12.40" height="45.10" fill="url(#hatch)" stroke="#111" stroke-width="0.95"/>
<line x1="354.20" y1="271.90" x2="354.20" y2="265.20" stroke="#2a2a2a" stroke-width="1.15" />
<line x1="351.10" y1="265.20" x2="357.30" y2="265.20" stroke="#2a2a2a" stroke-width="1.15" />
<rect x="367.30" y="255.70" width="12.40" height="61.30" fill="#fff" stroke="#2a2a2a" stroke-width="0.8"/>
<line x1="373.50" y1="255.70" x2="373.50" y2="250.00" stroke="#2a2a2a" stroke-width="1.15" />
<line x1="370.40" y1="250.00" x2="376.60" y2="250.00" stroke="#2a2a2a" stroke-width="1.15" />
<rect x="379.70" y="292.00" width="12.40" height="25.00" fill="#000" stroke="#111" stroke-width="0.95"/>
<line x1="385.90" y1="292.00" x2="385.90" y2="288.20" stroke="#2a2a2a" stroke-width="1.15" />
<line x1="382.80" y1="288.20" x2="389.00" y2="288.20" stroke="#2a2a2a" stroke-width="1.15" />
<rect x="392.10" y="247.50" width="12.40" height="69.50" fill="#bcbcbc" stroke="#111" stroke-width="0.95"/>
<line x1="398.30" y1="247.50" x2="398.30" y2="240.00" stroke="#2a2a2a" stroke-width="1.15" />
<line x1="395.20" y1="240.00" x2="401.40" y2="240.00" stroke="#2a2a2a" stroke-width="1.15" />
<rect x="404.50" y="268.30" width="12.40" height="48.70" fill="url(#hatch)" stroke="#111" stroke-width="0.95"/>
<line x1="410.70" y1="268.30" x2="410.70" y2="262.40" stroke="#2a2a2a" stroke-width="1.15" />
<line x1="407.60" y1="262.40" x2="413.80" y2="262.40" stroke="#2a2a2a" stroke-width="1.15" />
<line x1="308.8" y1="317.0" x2="421.8" y2="317.0" stroke="#151515" stroke-width="1.3" />
<line x1="335.6" y1="317.0" x2="335.6" y2="320.2" stroke="#111" stroke-width="1.2" />
<line x1="404.5" y1="317.0" x2="404.5" y2="320.2" stroke="#111" stroke-width="1.2" />
<text x="340.1" y="329.3" font-size="8.3" text-anchor="middle" fill="#151515" stroke="#151515" stroke-width="0.28" >CD4</text>
<text x="393.4" y="330.2" font-size="8.3" text-anchor="middle" fill="#151515" stroke="#151515" stroke-width="0.28" >CD8</text>
<polyline points="318.20,256.30 318.20,253.10 328.20,253.10 328.20,256.30" fill="none" stroke="#222" stroke-width="1"/>
<circle cx="322.7" cy="245.6" r="1.25" fill="#222"/>
<polyline points="342.90,245.60 342.90,242.50 353.20,242.50 353.20,245.60" fill="none" stroke="#222" stroke-width="1"/>
<text x="349.5" y="238.8" font-size="8" text-anchor="middle" fill="#151515" stroke="#151515" stroke-width="0.28" >NS</text>
<polyline points="374.50,243.50 374.50,240.20 385.00,240.20 385.00,243.50" fill="none" stroke="#222" stroke-width="1"/>
<circle cx="378.8" cy="232.5" r="1.25" fill="#222"/>
<polyline points="398.10,236.30 398.10,233.00 410.70,233.00 410.70,236.30" fill="none" stroke="#222" stroke-width="1"/>
<circle cx="403.7" cy="224.4" r="1.25" fill="#222"/>
<rect x="427.6" y="262.2" width="9.0" height="4.6" fill="#fff" stroke="#111" stroke-width="0.9"/>
<text x="439.6" y="267.5" font-size="8.5" text-anchor="start" fill="#151515" stroke="#151515" stroke-width="0.28" >Ctl-Ig</text>
<rect x="427.6" y="272.9" width="9.0" height="4.6" fill="#000" stroke="#111" stroke-width="0.9"/>
<text x="439.6" y="278.2" font-size="8.5" text-anchor="start" fill="#151515" stroke="#151515" stroke-width="0.28" >α-TIM-4</text>
<rect x="427.6" y="283.5" width="9.0" height="4.6" fill="#bcbcbc" stroke="#111" stroke-width="0.9"/>
<text x="439.6" y="288.8" font-size="8.5" text-anchor="start" fill="#151515" stroke="#151515" stroke-width="0.28" >α-CD20</text>
<rect x="427.6" y="293.8" width="9.0" height="4.6" fill="url(#hatch)" stroke="#111" stroke-width="0.9"/>
<text x="439.6" y="299.0" font-size="8.5" text-anchor="start" fill="#151515" stroke="#151515" stroke-width="0.28" >α-CD20 +α-TIM-4</text>
</g>
</svg>
</body></html>
